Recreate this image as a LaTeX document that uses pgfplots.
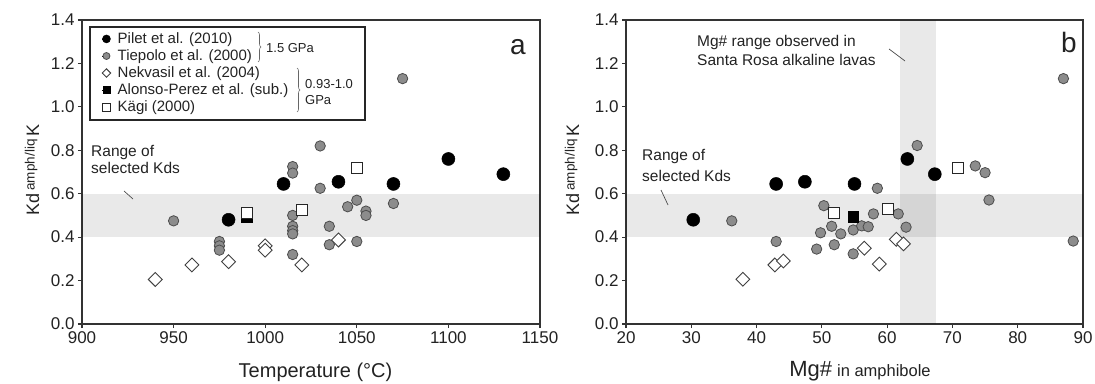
\documentclass[border=0pt]{standalone}
\usepackage{fontspec}
\setmainfont{Liberation Sans}
\usepackage{pgfplots}
\pgfplotsset{compat=1.18}
\usetikzlibrary{decorations.pathreplacing}
\definecolor{tiep}{HTML}{8C8C8C}
\definecolor{txt}{HTML}{222222}
\pgfplotsset{
  kdaxis/.style={
    scale only axis, height=304pt, anchor=south west,
    ymin=0, ymax=1.4, ytick={0,0.2,0.4,0.6,0.8,1.0,1.2,1.4},
    yticklabel style={/pgf/number format/.cd, fixed, fixed zerofill, precision=1},
    xticklabel style={/pgf/number format/.cd, 1000 sep={}},
    /pgf/number format/assume math mode=true,
    ticklabel style={font=\fontsize{17}{17}\selectfont, text=txt},
    axis line style={line width=1.5pt, black!80},
    tick style={line width=1.1pt, black!80},
    major tick length=4pt, tick align=outside,
    xtick pos=bottom, ytick pos=left,
    clip=false,
  },
  pilet/.style={only marks, mark=*, mark size=6.5pt, mark options={fill=black, draw=black, line width=0.5pt}},
  tiep/.style={only marks, mark=*, mark size=5.2pt, mark options={fill=tiep, draw=black!70, line width=0.8pt}},
  nek/.style={only marks, mark=square*, mark size=4.9pt, mark options={rotate=45, fill=white, draw=black!75, line width=0.9pt}},
  alon/.style={only marks, mark=square*, mark size=5.4pt, mark options={fill=black, draw=black}},
  kagi/.style={only marks, mark=square*, mark size=5.5pt, mark options={fill=white, draw=black!85, line width=1pt}},
}
\begin{document}
\begin{tikzpicture}
\useasboundingbox (0pt,0pt) rectangle (1095pt,383pt);
% ---------- panel a
\begin{axis}[kdaxis, at={(82pt,59pt)}, width=458pt,
  xmin=900, xmax=1150, xtick={900,950,1000,1050,1100,1150},
  legend image code/.code={\path (-4pt,0pt) -- (4pt,0pt); \draw[#1] plot coordinates {(0pt,0pt)};},
  legend style={at={(axis description cs:0.0437,0.962)}, anchor=north west, draw=none, fill=none,
    font=\fontsize{15}{15}\selectfont, text=txt, row sep=2.7pt, inner sep=0pt,
    nodes={inner sep=1pt}, /tikz/every odd column/.append style={column sep=6pt}},
  legend cell align=left,
]
\fill[black, opacity=0.085] (axis cs:900,0.4) rectangle (axis cs:1150,0.6);
\addplot[pilet, legend image post style={mark size=4pt}] coordinates {(980,0.48)(1010,0.645)(1040,0.655)(1070,0.645)(1100,0.76)(1130,0.69)};
\addlegendentry{Pilet et al. (2010)}
\addplot[tiep, legend image post style={mark size=3.5pt}] coordinates {(950,0.475)(975,0.38)(975,0.36)(975,0.34)(1015,0.725)(1015,0.695)(1015,0.50)(1015,0.45)(1015,0.43)(1015,0.415)(1015,0.32)(1030,0.82)(1030,0.625)(1035,0.45)(1035,0.365)(1045,0.54)(1050,0.57)(1050,0.38)(1055,0.52)(1055,0.50)(1070,0.555)(1075,1.13)};
\addlegendentry{Tiepolo et al. (2000)}
\addplot[nek, legend image post style={mark size=3pt}] coordinates {(940,0.205)(960,0.272)(980,0.287)(1000,0.36)(1000,0.34)(1020,0.272)(1040,0.387)};
\addlegendentry{Nekvasil et al. (2004)}
\addplot[alon, legend image post style={mark size=3.5pt}] coordinates {(990,0.494)};
\addlegendentry{Alonso-Perez et al. (sub.)}
\addplot[kagi, legend image post style={mark size=3.8pt}] coordinates {(990,0.51)(1020,0.525)(1050,0.72)};
\addlegendentry{Kägi (2000)}
\end{axis}
% ---------- panel b
\begin{axis}[kdaxis, at={(626pt,59pt)}, width=457pt,
  xmin=20, xmax=90, xtick={20,30,40,50,60,70,80,90}]
\fill[black, opacity=0.085] (axis cs:20,0.4) rectangle (axis cs:90,0.6);
\fill[black, opacity=0.085] (axis cs:62,0) rectangle (axis cs:67.5,1.4);
\addplot[pilet] coordinates {(30.3,0.48)(43,0.645)(47.4,0.655)(55,0.645)(63.1,0.76)(67.3,0.69)};
\addplot[tiep] coordinates {(36.2,0.475)(43,0.38)(49.2,0.345)(49.8,0.42)(50.3,0.545)(51.5,0.45)(51.9,0.365)(52.9,0.415)(54.8,0.433)(54.8,0.323)(56.1,0.452)(57.1,0.448)(57.9,0.507)(58.5,0.625)(61.7,0.507)(62.9,0.446)(64.6,0.822)(73.5,0.728)(75,0.697)(75.6,0.571)(87,1.13)(88.5,0.382)};
\addplot[nek] coordinates {(37.9,0.206)(42.8,0.272)(44.1,0.29)(56.5,0.349)(58.8,0.276)(61.4,0.39)(62.5,0.369)};
\addplot[alon] coordinates {(54.8,0.494)};
\addplot[kagi] coordinates {(51.8,0.51)(60.2,0.529)(70.9,0.72)};
\end{axis}
% ---------- legend frame and braces
\draw[line width=1.3pt, black!85] (90pt,356pt) rectangle (365pt,263pt);
\draw[decorate, decoration={brace, amplitude=3pt}, black!60, line width=0.6pt] (258pt,351pt) -- (258pt,321pt);
\node[anchor=west, font=\fontsize{13}{13}\selectfont, text=txt, inner sep=0pt] at (266pt,335pt) {1.5 GPa};
\draw[decorate, decoration={brace, amplitude=3pt}, black!60, line width=0.6pt] (297pt,315pt) -- (297pt,271pt);
\node[anchor=west, font=\fontsize{13}{13}\selectfont, text=txt, inner sep=0pt] at (305pt,299pt) {0.93-1.0};
\node[anchor=west, font=\fontsize{13}{13}\selectfont, text=txt, inner sep=0pt] at (305pt,283pt) {GPa};
% ---------- annotations
\node[anchor=west, font=\fontsize{15.5}{15.5}\selectfont, text=txt, inner sep=0pt] at (91pt,230pt) {Range of};
\node[anchor=west, font=\fontsize{15.5}{15.5}\selectfont, text=txt, inner sep=0pt] at (91pt,215pt) {selected Kds};
\draw[black!70, line width=0.7pt] (124pt,192pt) -- (133pt,184pt);
\node[anchor=west, font=\fontsize{15.5}{15.5}\selectfont, text=txt, inner sep=0pt] at (642pt,226pt) {Range of};
\node[anchor=west, font=\fontsize{15.5}{15.5}\selectfont, text=txt, inner sep=0pt] at (642pt,207pt) {selected Kds};
\draw[black!70, line width=0.7pt] (661pt,193pt) -- (668pt,178pt);
\node[anchor=west, font=\fontsize{15.5}{15.5}\selectfont, text=txt, inner sep=0pt] at (697pt,341pt) {Mg\# range observed in};
\node[anchor=west, font=\fontsize{15.5}{15.5}\selectfont, text=txt, inner sep=0pt] at (697pt,323pt) {Santa Rosa alkaline lavas};
\draw[black!70, line width=0.7pt] (889pt,334pt) -- (905pt,322pt);
\node[font=\fontsize{28}{28}\selectfont, text=txt, inner sep=0pt] at (518pt,336pt) {a};
\node[font=\fontsize{28}{28}\selectfont, text=txt, inner sep=0pt] at (1069pt,341pt) {b};
% ---------- axis labels
\node[rotate=90, anchor=base, inner sep=0pt, text=txt, font=\fontsize{18}{18}\selectfont] at (39pt,213pt) {Kd\,\raisebox{0.45ex}{\fontsize{13.5}{13.5}\selectfont amph/liq}\,K};
\node[rotate=90, anchor=base, inner sep=0pt, text=txt, font=\fontsize{18}{18}\selectfont] at (579pt,213pt) {Kd\,\raisebox{0.45ex}{\fontsize{13.5}{13.5}\selectfont amph/liq}\,K};
\node[anchor=base, inner sep=0pt, text=txt, font=\fontsize{20}{20}\selectfont] at (315.5pt,5.5pt) {Temperature (°C)};
\node[anchor=base, inner sep=0pt, text=txt] at (860pt,7pt) {{\fontsize{22}{22}\selectfont Mg\#}\hspace{5pt}{\fontsize{16.5}{16.5}\selectfont in amphibole}};
\end{tikzpicture}
\end{document}
